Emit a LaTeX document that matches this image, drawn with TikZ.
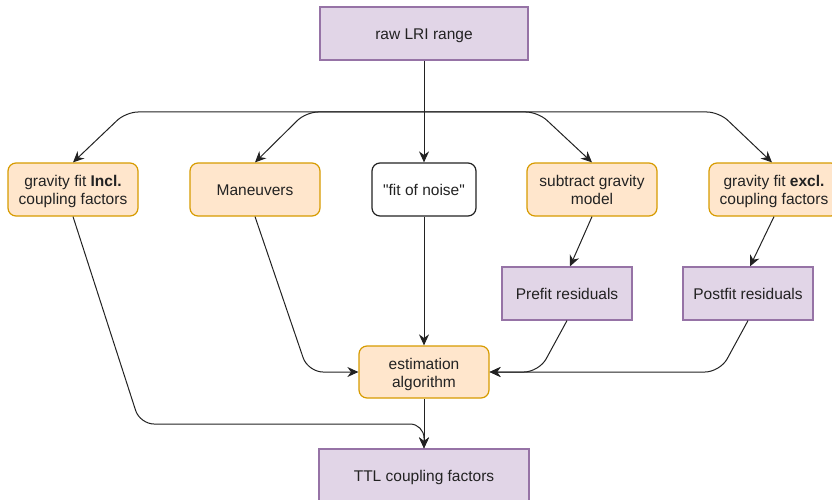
\documentclass[tikz,border=0pt]{standalone}
\usepackage{fontspec}
\setmainfont{Liberation Sans}
% same face without TeX ligature mapping, so " stays a straight quote
\newfontfamily\straightquotes{Liberation Sans}
\usetikzlibrary{arrows.meta}
\definecolor{lilacfill}{HTML}{E1D5E7}
\definecolor{lilacline}{HTML}{9673A6}
\definecolor{peachfill}{HTML}{FFE6CC}
\definecolor{peachline}{HTML}{D79B00}
\definecolor{ink}{HTML}{222222}
% label text sits a little below the geometric centre of its box
\newcommand{\boxtext}[1]{\raisebox{-2.5pt}[\height][\depth]{\begin{tabular}{@{}c@{}}#1\end{tabular}}}
\begin{document}
\begin{tikzpicture}[x=1pt,y=-1pt,
  every node/.style={font=\fontsize{15.5}{18}\selectfont, text=ink, align=center, inner sep=0pt},
  box/.style={draw, line width=1.2pt, minimum width=#1, minimum height=53pt},
  databox/.style={box=#1, fill=lilacfill, draw=lilacline},
  procbox/.style={box=#1, fill=peachfill, draw=peachline, rounded corners=8pt},
  plainbox/.style={box=#1, fill=white, draw=ink, rounded corners=8pt},
  flow/.style={draw=ink, line width=1pt, rounded corners=12pt,
    -{Stealth[length=11pt,width=10pt]}}]
\useasboundingbox (0,0) rectangle (832,500);

% boxes
\node[databox=208pt] (raw) at (424,33.5) {\boxtext{raw LRI range}};
\node[procbox=130pt] (incl) at (73,189.5) {\boxtext{gravity fit \textbf{Incl.}\\coupling factors}};
\node[procbox=130pt] (man) at (255,189.5) {\boxtext{Maneuvers}};
\node[plainbox=104pt] (noise) at (424,189.5) {\boxtext{\straightquotes"fit of noise"}};
\node[procbox=130pt] (sub) at (592,189.5) {\boxtext{subtract gravity\\model}};
\node[procbox=130pt] (excl) at (774,189.5) {\boxtext{gravity fit \textbf{excl.}\\coupling factors}};
\node[databox=130pt] (pre) at (567,293.5) {\boxtext{Prefit residuals}};
\node[databox=130pt] (post) at (748,293.5) {\boxtext{Postfit residuals}};
\node[procbox=130pt, minimum height=52pt] (est) at (424,372) {\boxtext{estimation\\algorithm}};
\node[databox=210pt] (ttl) at (424,475.5) {\boxtext{TTL coupling factors}};

% waypoints of the fan-out bus and the collector lines
\coordinate (hub) at (424,112);
\coordinate (bInc) at (126,112);
\coordinate (bMan) at (306,112);
\coordinate (bSub) at (538,112);
\coordinate (bExc) at (719,112);
\coordinate (kMan) at (308,372);
\coordinate (kPre) at (539,372);
\coordinate (kPost) at (720,372);
\coordinate (kInc) at (140,424);
\coordinate (kTtl) at (424,424);

% fan-out from the raw range: one trunk, then a bus branching left and right
\draw[flow] (raw) -- (noise);
\draw[flow] (hub) -- (bInc) -- (incl.north);
\draw[flow] (hub) -- (bMan) -- (man.north);
\draw[flow] (hub) -- (bSub) -- (sub.north);
\draw[flow] (hub) -- (bExc) -- ([xshift=-2pt]excl.north);

% residuals
\draw[flow] (sub.south) -- ([xshift=3pt]pre.north);
\draw[flow] (excl.south) -- ([xshift=2pt]post.north);

% inputs of the estimation
\draw[flow] (noise) -- (est);
\draw[flow, rounded corners=15pt] (man.south) -- (kMan) -- (est.west);
\draw[flow, rounded corners=15pt] (pre.south) -- (kPre) -- (est.east);
\draw[flow, rounded corners=15pt] (post.south) -- (kPost) -- (est.east);

% outputs
\draw[flow] (est) -- (ttl);
\draw[flow, rounded corners=14pt] (incl.south) -- (kInc) -- (kTtl) -- (ttl.north);
\end{tikzpicture}
\end{document}
